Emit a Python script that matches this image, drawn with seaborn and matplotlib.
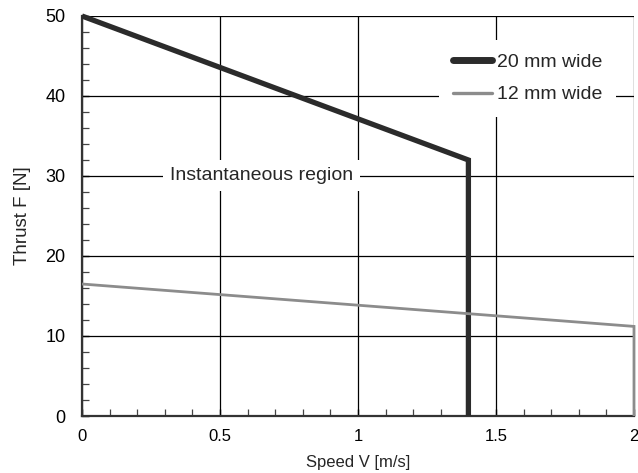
import matplotlib
matplotlib.use("Agg")
import matplotlib.pyplot as plt
import seaborn as sns
import pandas as pd
from matplotlib.ticker import MultipleLocator
from matplotlib import font_manager

# Data
speed_20 = [0.0, 1.4, 1.4]
thrust_20 = [50.0, 32.0, 0.0]
speed_12 = [0.0, 2.0, 2.0]
thrust_12 = [16.5, 11.2, 0.0]
series_names = ["20 mm wide", "12 mm wide"]
x_ticks = [0, 0.5, 1, 1.5, 2]
x_labels = ["0", "0.5", "1", "1.5", "2"]
y_ticks = [0, 10, 20, 30, 40, 50]

df = pd.concat([
    pd.DataFrame({"Speed": speed_20, "Thrust": thrust_20, "Series": series_names[0]}),
    pd.DataFrame({"Speed": speed_12, "Thrust": thrust_12, "Series": series_names[1]}),
])

sns.set_style("white")
plt.rcParams["font.family"] = ["Liberation Sans", "DejaVu Sans"]

names = {f.name for f in font_manager.fontManager.ttflist}
if "Liberation Sans Narrow" in names:
    xfam, xtick_size, xlab_size = ["Liberation Sans Narrow", "DejaVu Sans"], 13, 13
else:
    xfam, xtick_size, xlab_size = ["Liberation Sans", "DejaVu Sans"], 12, 12

fig = plt.figure(figsize=(6.38, 4.73), dpi=100)
ax = fig.add_axes([82/638, 57/473, 552/638, 400/473])

palette = {series_names[0]: "#2b2b2b", series_names[1]: "#8c8c8c"}
widths = {series_names[0]: 3.8, series_names[1]: 2.0}
for name in series_names:
    sub = df[df["Series"] == name]
    sns.lineplot(data=sub, x="Speed", y="Thrust", sort=False, estimator=None,
                 color=palette[name], linewidth=widths[name], ax=ax, label=name,
                 solid_capstyle="butt", solid_joinstyle="miter", zorder=5,
                 clip_on=False)

ax.set_xlim(0, 2)
ax.set_ylim(0, 50)
ax.set_xticks(x_ticks)
ax.set_xticklabels(x_labels, family=xfam, fontsize=xtick_size)
ax.set_yticks(y_ticks)
ax.set_yticklabels([str(v) for v in y_ticks], fontsize=13)
ax.xaxis.set_minor_locator(MultipleLocator(0.1))
ax.yaxis.set_minor_locator(MultipleLocator(2))
ax.tick_params(axis="both", which="major", direction="in", length=5, width=1,
               colors="black", bottom=True, left=True)
ax.tick_params(axis="x", which="major", pad=9)
ax.tick_params(axis="y", which="major", pad=12)
ax.tick_params(axis="both", which="minor", direction="in", length=5, width=0.9,
               bottom=True, left=True, color="#444444")
ax.grid(True, which="major", color="black", linewidth=0.9, zorder=1)
ax.set_axisbelow(True)
for s in ["top", "right"]:
    ax.spines[s].set_visible(False)
for s in ["left", "bottom"]:
    ax.spines[s].set_color("#333333")
    ax.spines[s].set_linewidth(1.6)

ax.set_xlabel("Speed V [m/s]", family=xfam, fontsize=xlab_size, labelpad=8)
ax.set_ylabel("Thrust F [N]", fontsize=13.5, labelpad=10)

ax.text(0.651, 30, "Instantaneous region", fontsize=14, ha="center", va="center",
        bbox=dict(facecolor="white", edgecolor="none", pad=5), zorder=4)

leg = ax.legend(loc="upper right", bbox_to_anchor=(0.968, 0.94), frameon=True,
                fontsize=14, handlelength=2.0, handletextpad=0.3, labelspacing=0.75,
                borderpad=0.7, borderaxespad=0)
leg.get_frame().set_facecolor("white")
leg.get_frame().set_edgecolor("none")
leg.get_frame().set_alpha(1)
leg.set_zorder(6)
for h, lw in zip(leg.get_lines(), [5.0, 2.4]):
    h.set_solid_capstyle("round")
    h.set_linewidth(lw)

fig.savefig("out.png", dpi=100)
